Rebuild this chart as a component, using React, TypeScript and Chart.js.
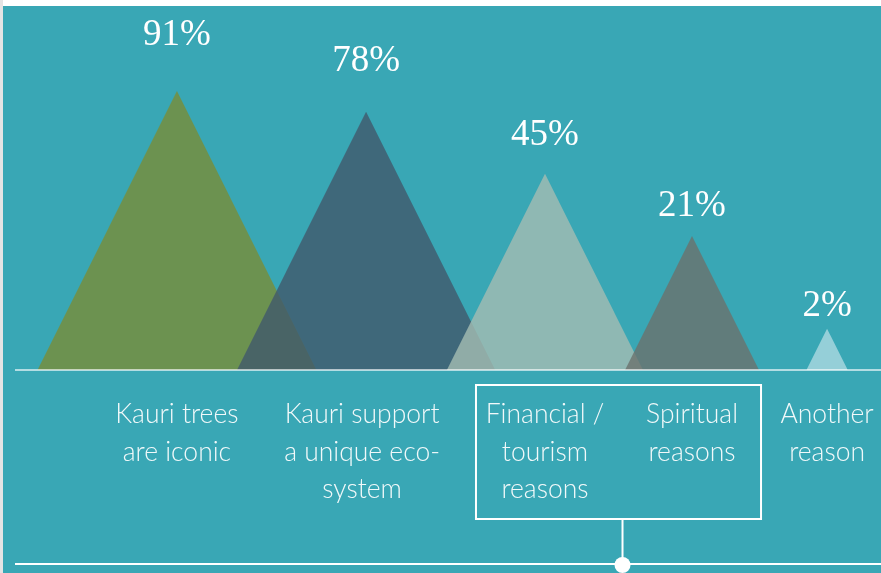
import React, { useEffect, useRef } from "react";
import { Chart, registerables } from "chart.js";

Chart.register(...registerables);

// ---- data ----
const categories: string[][] = [
  ["Kauri trees", "are iconic"],
  ["Kauri support", "a unique eco-", "system"],
  ["Financial /", "tourism", "reasons"],
  ["Spiritual", "reasons"],
  ["Another", "reason"],
];
const values = [91, 78, 45, 21, 2];
const valueLabels = ["91%", "78%", "45%", "21%", "2%"];
// horizontal position of each peak, in x-axis units (layout)
const peakCenters = [5.95, 12.42, 18.54, 23.57, 28.19];
const fillColors = [
  "rgba(121,141,55,0.8)",
  "rgba(65,89,108,0.8)",
  "rgba(165,189,179,0.8)",
  "rgba(107,114,109,0.8)",
  "rgba(172,218,225,0.8)",
];

const TEAL = "#39a7b5";

const decorPlugin = {
  id: "decor",
  beforeDraw(chart: any) {
    const { ctx, width, height } = chart;
    ctx.save();
    ctx.fillStyle = "#ffffff";
    ctx.fillRect(0, 0, width, height);
    ctx.fillStyle = "#e4e4e4";
    ctx.fillRect(0, 0, 3, height);
    ctx.fillStyle = TEAL;
    ctx.fillRect(3, 6, width - 3, height - 6);
    ctx.restore();
  },
  afterDatasetsDraw(chart: any) {
    const { ctx, width } = chart;
    const xs = chart.scales.x;
    const ys = chart.scales.y;
    const base = ys.getPixelForValue(0);
    ctx.save();
    // baseline
    ctx.strokeStyle = "rgba(255,255,255,0.62)";
    ctx.lineWidth = 2;
    ctx.beginPath();
    ctx.moveTo(15, base);
    ctx.lineTo(width, base);
    ctx.stroke();

    // value labels
    ctx.fillStyle = "#ffffff";
    ctx.font = "37px 'Liberation Serif', serif";
    ctx.textAlign = "center";
    ctx.textBaseline = "alphabetic";
    values.forEach((v, i) => {
      const px = xs.getPixelForValue(peakCenters[i]);
      const py = ys.getPixelForValue(Math.sqrt(v));
      ctx.fillText(valueLabels[i], px, py - (12 + 0.37 * v));
    });

    // category labels
    ctx.fillStyle = "rgba(255,255,255,0.93)";
    ctx.font = "300 26.5px Lato, 'Open Sans', sans-serif";
    const firstLine = base + 53;
    const lineH = 37.5;
    categories.forEach((lines, i) => {
      const px = xs.getPixelForValue(peakCenters[i]) - (i === 1 ? 4 : 0);
      lines.forEach((t, j) => ctx.fillText(t, px, firstLine + j * lineH));
    });

    // box around financial + spiritual
    const bx0 = xs.getPixelForValue(peakCenters[2]) - 69;
    const bx1 = xs.getPixelForValue(peakCenters[3]) + 69;
    const by0 = base + 15;
    const by1 = base + 149;
    ctx.strokeStyle = "#ffffff";
    ctx.lineWidth = 2;
    ctx.strokeRect(bx0, by0, bx1 - bx0, by1 - by0);

    // bottom line + connector
    const bottomY = base + 194;
    const cx = (bx0 + bx1) / 2 + 4;
    ctx.beginPath();
    ctx.moveTo(15, bottomY);
    ctx.lineTo(width, bottomY);
    ctx.stroke();
    ctx.beginPath();
    ctx.moveTo(cx, by1);
    ctx.lineTo(cx, bottomY);
    ctx.stroke();
    ctx.fillStyle = "#ffffff";
    ctx.beginPath();
    ctx.arc(cx, bottomY + 1, 8, 0, Math.PI * 2);
    ctx.fill();
    ctx.restore();
  },
};

export default function App() {
  const ref = useRef<HTMLCanvasElement>(null);
  useEffect(() => {
    if (!ref.current) return;
    const datasets = values.map((v, i) => {
      const h = Math.sqrt(v);
      return {
        label: categories[i].join(" "),
        data: [
          { x: peakCenters[i] - h / 2, y: 0 },
          { x: peakCenters[i], y: h },
          { x: peakCenters[i] + h / 2, y: 0 },
        ],
        fill: "origin",
        backgroundColor: fillColors[i],
        borderWidth: 0,
        borderColor: "rgba(0,0,0,0)",
        pointRadius: 0,
        tension: 0,
        order: values.length - 1 - i,
      };
    });
    const chart = new Chart(ref.current, {
      type: "line",
      data: { datasets } as any,
      options: {
        animation: false,
        responsive: false,
        devicePixelRatio: 1,
        layout: { padding: { left: 3, right: 1, top: 19, bottom: 203 } },
        plugins: { legend: { display: false }, tooltip: { enabled: false } },
        scales: {
          x: { type: "linear", min: 0, max: 30, display: false },
          y: { type: "linear", min: 0, max: 12, display: false },
        },
      } as any,
      plugins: [decorPlugin],
    });
    return () => chart.destroy();
  }, []);
  return (
    <div style={{ position: "fixed", left: 0, top: 0, width: 881, height: 573 }}>
      <canvas ref={ref} width={881} height={573} style={{ display: "block", width: 881, height: 573 }} />
    </div>
  );
}
